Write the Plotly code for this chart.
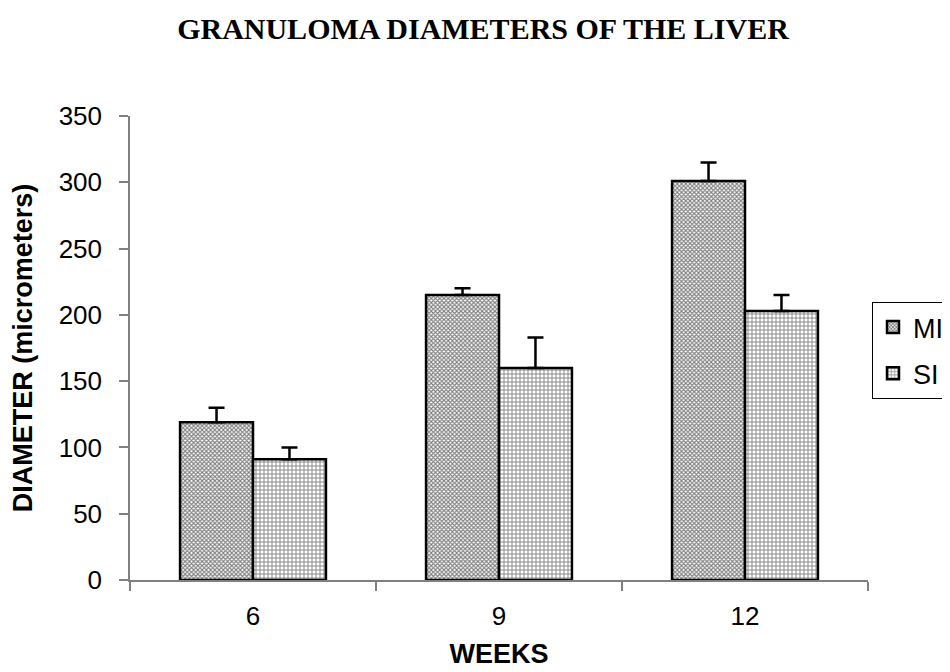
import plotly.graph_objects as go

weeks = ["6", "9", "12"]
mi_values = [119, 215, 301]
mi_err = [11, 5, 14]
si_values = [91, 160, 203]
si_err = [9, 23, 12]

fig = go.Figure()
fig.add_trace(go.Bar(
    name="MI", x=weeks, y=mi_values, legendgroup="mi",
    marker=dict(color="white", line=dict(color="black", width=2.5),
                pattern=dict(shape="x", size=3, solidity=0.6, fgcolor="black", bgcolor="white")),
    error_y=dict(type="data", array=mi_err, arrayminus=[0, 0, 0], symmetric=False,
                 color="black", thickness=2.5, width=8),
))
fig.add_trace(go.Bar(
    name="SI", x=weeks, y=si_values, legendgroup="si",
    marker=dict(color="white", line=dict(color="black", width=2.5),
                pattern=dict(shape="+", size=4, solidity=0.4, fgcolor="black", bgcolor="white")),
    error_y=dict(type="data", array=si_err, arrayminus=[0, 0, 0], symmetric=False,
                 color="black", thickness=2.5, width=8),
))

fig.update_layout(
    width=950, height=672,
    paper_bgcolor="white", plot_bgcolor="white",
    margin=dict(l=122, r=90, t=108, b=100, autoexpand=False),
    barmode="group", bargap=0.407, bargroupgap=0,
    title=dict(text="<b>GRANULOMA DIAMETERS OF THE LIVER</b>", x=0.5, xanchor="center",
               y=1 - 20 / 672, yanchor="middle",
               font=dict(family="Liberation Serif", size=30, color="black")),
    font=dict(family="Liberation Sans", color="black"),
    legend=dict(x=(864 - 122) / 738, xanchor="left", y=(572 - 294) / 464, yanchor="top",
                bordercolor="black", borderwidth=1, bgcolor="white",
                font=dict(family="Liberation Sans", size=27, color="black"),
                traceorder="grouped", tracegroupgap=8),
    showlegend=True,
)
fig.update_yaxes(range=[0, 350], dtick=50, showgrid=False, zeroline=False,
                 showline=True, linecolor="#808080", linewidth=1.5,
                 ticks="outside", ticklen=9, tickcolor="#808080", tickwidth=1.5,
                 ticklabelstandoff=12,
                 tickfont=dict(size=26, color="black"),
                 title=dict(text="<b>DIAMETER (micrometers)</b>", standoff=18,
                            font=dict(size=27, color="black")))
fig.update_xaxes(showgrid=False, showline=True, linecolor="#808080", linewidth=1.5,
                 ticks="outside", ticklen=9, tickcolor="#808080", tickwidth=1.5,
                 tickson="boundaries", ticklabelstandoff=12,
                 tickfont=dict(size=26, color="black"),
                 title=dict(text="<b>WEEKS</b>", standoff=14,
                            font=dict(size=27, color="black")))

fig.write_html("out.html")
